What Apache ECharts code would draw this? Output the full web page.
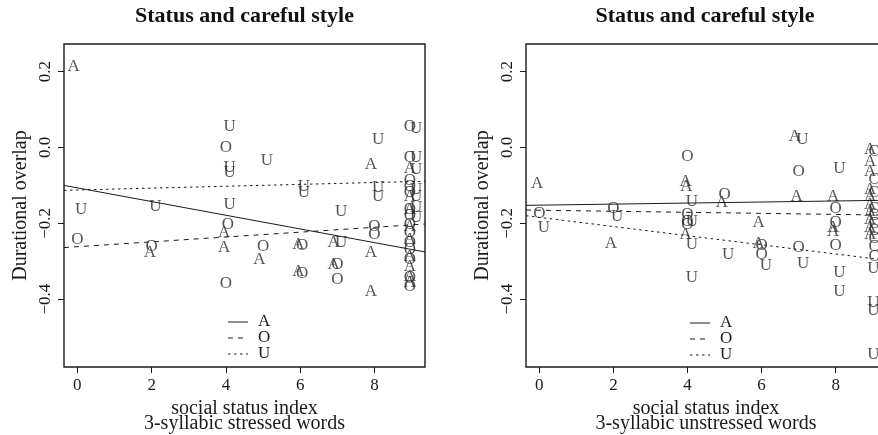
<!DOCTYPE html>
<html><head><meta charset="utf-8">
<script src="https://cdn.jsdelivr.net/npm/echarts@6/dist/echarts.min.js"></script>
<style>html,body{margin:0;padding:0;background:#fff}#c{width:878px;height:435px}</style>
</head><body><div id="c"></div>
<script>
// ---- data ----
const xTicks = [0, 2, 4, 6, 8];
const yTicks = [-0.4, -0.2, 0, 0.2];
const xRange = [-0.36, 9.36];
const yRange = [-0.579, 0.273];
const titles = ['Status and careful style', 'Status and careful style'];
const xNames = ['social status index\n3-syllabic stressed words', 'social status index\n3-syllabic unstressed words'];
const yName = 'Durational overlap';
const groups = ['A', 'O', 'U'];

// left panel: stressed words
const leftA = [[-0.1,0.213],[1.95,-0.277],[3.95,-0.225],[3.95,-0.265],[4.9,-0.296],[5.95,-0.256],[5.95,-0.326],
  [6.9,-0.251],[6.9,-0.309],[7.9,-0.046],[7.9,-0.278],[7.9,-0.379],
  [8.95,-0.056],[8.95,-0.13],[8.95,-0.164],[8.95,-0.208],[8.95,-0.243],[8.95,-0.287],[8.95,-0.313],[8.95,-0.34],[8.95,-0.356]];
const leftO = [[0.0,-0.243],[2.0,-0.261],[4.0,-0.001],[4.05,-0.203],[4.0,-0.359],[5.0,-0.26],[6.05,-0.258],[6.05,-0.332],
  [7.0,-0.309],[7.0,-0.348],[8.0,-0.208],[8.0,-0.23],
  [8.95,0.055],[8.95,-0.026],[8.95,-0.086],[8.95,-0.104],[8.95,-0.12],[8.95,-0.164],[8.95,-0.18],[8.95,-0.203],
  [8.95,-0.225],[8.95,-0.25],[8.95,-0.27],[8.95,-0.295],[8.95,-0.343],[8.95,-0.366]];
const leftU = [[0.1,-0.164],[2.1,-0.157],[4.1,0.054],[4.1,-0.054],[4.1,-0.066],[4.1,-0.151],[5.1,-0.034],[6.1,-0.103],
  [6.1,-0.12],[7.1,-0.168],[7.1,-0.251],[8.1,0.02],[8.1,-0.106],[8.1,-0.129],
  [9.12,0.05],[9.12,-0.026],[9.12,-0.058],[9.12,-0.11],[9.12,-0.13],[9.12,-0.159],[9.12,-0.185]];
const leftFitA = [[-0.36,-0.100],[9.36,-0.2755]];
const leftFitO = [[-0.36,-0.264],[9.36,-0.2018]];
const leftFitU = [[-0.36,-0.113],[9.36,-0.089]];

// right panel: unstressed words
const rightA = [[-0.06,-0.096],[1.93,-0.252],[3.95,-0.089],[3.97,-0.103],[3.95,-0.23],[4.93,-0.146],[5.92,-0.197],
  [5.92,-0.254],[6.9,0.029],[6.95,-0.129],[7.93,-0.129],[7.93,-0.21],[7.93,-0.221],
  [8.93,-0.006],[8.93,-0.037],[8.93,-0.063],[8.93,-0.11],[8.93,-0.13],[8.93,-0.15],[8.93,-0.17],[8.93,-0.19],[8.93,-0.21],[8.93,-0.23]];
const rightO = [[0.0,-0.173],[2.0,-0.162],[4.0,-0.024],[4.0,-0.177],[4.0,-0.195],[4.0,-0.203],[5.0,-0.125],[6.0,-0.258],
  [6.0,-0.282],[7.0,-0.063],[7.0,-0.265],[8.0,-0.16],[8.0,-0.199],[8.0,-0.258],
  [9.05,-0.01],[9.05,-0.085],[9.05,-0.12],[9.05,-0.16],[9.05,-0.18],[9.05,-0.2],[9.05,-0.22],[9.05,-0.24],[9.05,-0.26],[9.05,-0.287]];
const rightU = [[0.12,-0.212],[2.1,-0.182],[4.12,-0.142],[4.12,-0.195],[4.12,-0.256],[4.12,-0.344],[5.1,-0.282],
  [6.12,-0.311],[7.1,0.02],[7.12,-0.306],[8.1,-0.056],[8.1,-0.33],[8.1,-0.379],
  [9.02,-0.32],[9.02,-0.41],[9.02,-0.43],[9.02,-0.546]];
const rightFitA = [[-0.36,-0.1526],[9.36,-0.1392]];
const rightFitO = [[-0.36,-0.165],[9.36,-0.1783]];
const rightFitU = [[-0.36,-0.180],[9.36,-0.2973]];

// ---- styling ----
const FONT = 'Liberation Serif';
const INK = '#1a1a1a';
const dashes = {A: 'solid', O: [5, 5], U: [2.5, 3.5]};
const panels = [
  {pts: {A: leftA, O: leftO, U: leftU}, fit: {A: leftFitA, O: leftFitO, U: leftFitU},
   grid: {left: 64, top: 44, width: 361, height: 323}, legend: [228, 322]},
  {pts: {A: rightA, O: rightO, U: rightU}, fit: {A: rightFitA, O: rightFitO, U: rightFitU},
   grid: {left: 526, top: 44, width: 360, height: 323}, legend: [690, 323]}
];

const grids = [], xAxes = [], yAxes = [], series = [], titleList = [], graphics = [];
panels.forEach((p, i) => {
  grids.push(Object.assign({show: true, borderColor: INK, borderWidth: 1.4, backgroundColor: 'transparent',
    containLabel: false, outerBoundsMode: 'none'}, p.grid));
  titleList.push({text: titles[i], left: p.grid.left + (i === 0 ? p.grid.width : 358) / 2, top: 5, padding: 0, textAlign: 'center',
    textStyle: {fontFamily: FONT, fontWeight: 'bold', fontSize: 22, color: '#111'}});
  xAxes.push({type: 'value', gridIndex: i, min: xRange[0], max: xRange[1],
    name: xNames[i], nameLocation: 'middle', nameGap: 33,
    nameTextStyle: {fontFamily: FONT, fontSize: 20, color: INK, lineHeight: 15},
    axisLine: {show: false, onZero: false}, splitLine: {show: false},
    axisTick: {show: true, length: 6, lineStyle: {color: INK}, customValues: xTicks},
    axisLabel: {fontFamily: FONT, fontSize: 17, color: INK, margin: 10, customValues: xTicks, formatter: v => String(v)}});
  yAxes.push({type: 'value', gridIndex: i, min: yRange[0], max: yRange[1],
    name: yName, nameLocation: 'middle', nameGap: 33, nameRotate: 90,
    nameTextStyle: {fontFamily: FONT, fontSize: 20, color: INK},
    axisLine: {show: false, onZero: false}, splitLine: {show: false},
    axisTick: {show: true, length: 6, lineStyle: {color: INK}, customValues: yTicks},
    axisLabel: {fontFamily: FONT, fontSize: 17, color: INK, rotate: 90, margin: 10, customValues: yTicks,
      formatter: v => (v < -1e-9 ? '\u2212' : '') + Math.abs(v).toFixed(1)}});
  groups.forEach(g => {
    series.push({type: 'scatter', xAxisIndex: i, yAxisIndex: i, data: p.pts[g], symbolSize: 1,
      itemStyle: {color: 'rgba(0,0,0,0)'}, silent: true, animation: false,
      label: {show: true, position: 'inside', formatter: g, fontFamily: FONT, fontSize: 17, color: '#2a2a2a'}});
  });
  groups.forEach(g => {
    series.push({type: 'line', xAxisIndex: i, yAxisIndex: i, data: p.fit[g], symbol: 'none', animation: false,
      lineStyle: {color: INK, width: 1, type: dashes[g]}, z: 3});
  });
  groups.forEach((g, k) => {
    const [lx, ly] = p.legend;
    const y = ly + k * 16;
    graphics.push({type: 'line', shape: {x1: lx, y1: y, x2: lx + 20, y2: y},
      style: {stroke: INK, lineWidth: 1, lineDash: g === 'A' ? null : dashes[g]}});
    graphics.push({type: 'text', x: lx + 30, y: y, style: {text: g, fontFamily: FONT, fontSize: 17, fill: INK,
      textAlign: 'left', textVerticalAlign: 'middle'}});
  });
});

const chart = echarts.init(document.getElementById('c'), null, {renderer: 'canvas'});
chart.setOption({backgroundColor: '#fff', animation: false, title: titleList, grid: grids,
  xAxis: xAxes, yAxis: yAxes, series: series, graphic: graphics});
</script></body></html>
